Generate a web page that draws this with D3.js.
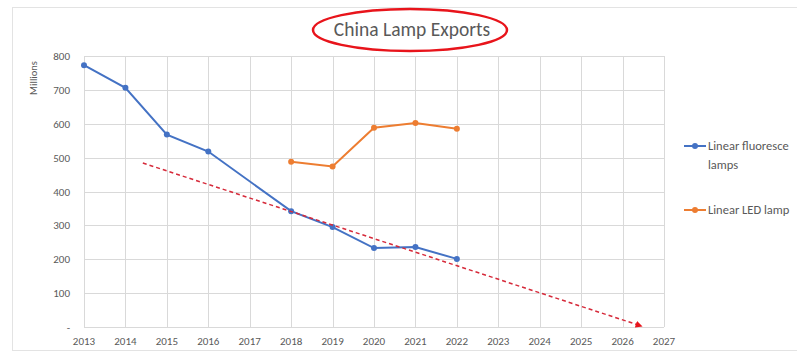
<!DOCTYPE html>
<html>
<head>
<meta charset="utf-8">
<script src="https://cdn.jsdelivr.net/npm/d3@7"></script>
<style>
  body { margin: 0; background: #fff; overflow: hidden; }
  text { font-family: Calibri, Carlito, "Open Sans", sans-serif; }
</style>
</head>
<body>
<script>
//----------------------------------------data---------------------------------------

var years = [2013, 2014, 2015, 2016, 2017, 2018, 2019, 2020, 2021, 2022];
var fluorescent = [773, 706, 568, 518, null, 342, 295, 233, 236, 201];
var led = [null, null, null, null, null, 488, 474, 588, 602, 585];
var xTicks = [2013, 2014, 2015, 2016, 2017, 2018, 2019, 2020, 2021, 2022, 2023, 2024, 2025, 2026, 2027];
var yTicks = [0, 100, 200, 300, 400, 500, 600, 700, 800];
var trendYears = [2014.42, 2026.45];
var trendValues = [484, 3];
// legend labels as they show in the (cropped) reference
var legendLabels = [["Linear fluoresce", "lamps"], ["Linear LED lamp"]];

//----------------------------------------svg----------------------------------------

var svg = d3.select("body")
  .append("svg")
  .attr("width", 797)
  .attr("height", 357);

// chart border
svg.append("rect")
  .attr("x", 12.5).attr("y", 7.5)
  .attr("width", 800).attr("height", 343)
  .attr("fill", "none")
  .attr("stroke", "#e3e3e3");

var x = d3.scaleLinear().domain([2013, 2027]).range([84, 664]);
var y = d3.scaleLinear().domain([0, 800]).range([327, 56]);

//----------------------------------------grid---------------------------------------

svg.append("g")
  .selectAll("line")
  .data(xTicks)
  .enter().append("line")
  .attr("x1", function(d) { return Math.round(x(d)) + 0.5; })
  .attr("x2", function(d) { return Math.round(x(d)) + 0.5; })
  .attr("y1", y(800)).attr("y2", y(0))
  .attr("stroke", "#d9d9d9");

svg.append("g")
  .selectAll("line")
  .data(yTicks)
  .enter().append("line")
  .attr("x1", x(2013)).attr("x2", x(2027))
  .attr("y1", function(d) { return Math.round(y(d)) + 0.5; })
  .attr("y2", function(d) { return Math.round(y(d)) + 0.5; })
  .attr("stroke", "#d9d9d9");

//----------------------------------------axes---------------------------------------

svg.append("g")
  .selectAll("text")
  .data(yTicks)
  .enter().append("text")
  .attr("x", 70)
  .attr("y", function(d) { return y(d) + 4; })
  .attr("text-anchor", "end")
  .attr("font-size", 11)
  .attr("fill", "#595959")
  .text(function(d) { return d === 0 ? "-" : d; });

svg.append("g")
  .selectAll("text")
  .data(xTicks)
  .enter().append("text")
  .attr("x", function(d) { return x(d); })
  .attr("y", 345)
  .attr("text-anchor", "middle")
  .attr("font-size", 11)
  .attr("fill", "#595959")
  .text(function(d) { return d; });

svg.append("text")
  .attr("transform", "translate(37,78) rotate(-90)")
  .attr("text-anchor", "middle")
  .attr("font-size", 10.5)
  .attr("fill", "#595959")
  .text("Millions");

//----------------------------------------title--------------------------------------

svg.append("text")
  .attr("x", 412).attr("y", 36)
  .attr("text-anchor", "middle")
  .attr("font-size", 19.5)
  .attr("fill", "#595959")
  .text("China Lamp Exports");

svg.append("ellipse")
  .attr("cx", 410).attr("cy", 30)
  .attr("rx", 97).attr("ry", 21)
  .attr("fill", "none")
  .attr("stroke", "#e8141b")
  .attr("stroke-width", 2.5);

//----------------------------------------series-------------------------------------

function drawSeries(values, color) {
  var pts = years.map(function(yr, i) { return { yr: yr, v: values[i] }; })
    .filter(function(d) { return d.v !== null; });

  var line = d3.line()
    .x(function(d) { return x(d.yr); })
    .y(function(d) { return y(d.v); });

  svg.append("path")
    .datum(pts)
    .attr("d", line)
    .attr("fill", "none")
    .attr("stroke", color)
    .attr("stroke-width", 2);

  svg.append("g")
    .selectAll("circle")
    .data(pts)
    .enter().append("circle")
    .attr("cx", function(d) { return x(d.yr); })
    .attr("cy", function(d) { return y(d.v); })
    .attr("r", 3)
    .attr("fill", color);
}

drawSeries(fluorescent, "#4472c4");
drawSeries(led, "#ed7d31");

//----------------------------------------trend arrow--------------------------------

svg.append("defs").append("marker")
  .attr("id", "arrow")
  .attr("viewBox", "0 0 10 10")
  .attr("refX", 8).attr("refY", 5)
  .attr("markerWidth", 7).attr("markerHeight", 7)
  .attr("markerUnits", "userSpaceOnUse")
  .attr("orient", "auto")
  .append("path")
  .attr("d", "M0,0 L10,5 L0,10 Z")
  .attr("fill", "#e8141b");

svg.append("line")
  .attr("x1", x(trendYears[0])).attr("y1", y(trendValues[0]))
  .attr("x2", x(trendYears[1])).attr("y2", y(trendValues[1]))
  .attr("stroke", "#d62a3a")
  .attr("stroke-width", 1.5)
  .attr("stroke-dasharray", "4,3")
  .attr("marker-end", "url(#arrow)");

//----------------------------------------legend-------------------------------------

var legend = [
  { y: 146, color: "#4472c4", lines: legendLabels[0] },
  { y: 210, color: "#ed7d31", lines: legendLabels[1] }
];

var lg = svg.append("g")
  .selectAll("g")
  .data(legend)
  .enter().append("g");

lg.append("line")
  .attr("x1", 684).attr("x2", 706)
  .attr("y1", function(d) { return d.y; })
  .attr("y2", function(d) { return d.y; })
  .attr("stroke", function(d) { return d.color; })
  .attr("stroke-width", 2);

lg.append("circle")
  .attr("cx", 695)
  .attr("cy", function(d) { return d.y; })
  .attr("r", 3)
  .attr("fill", function(d) { return d.color; });

lg.each(function(d) {
  var g = d3.select(this);
  d.lines.forEach(function(t, i) {
    g.append("text")
      .attr("x", 708)
      .attr("y", d.y + 4 + i * 19)
      .attr("font-size", 12.5)
      .attr("fill", "#595959")
      .text(t);
  });
});
</script>
</body>
</html>
